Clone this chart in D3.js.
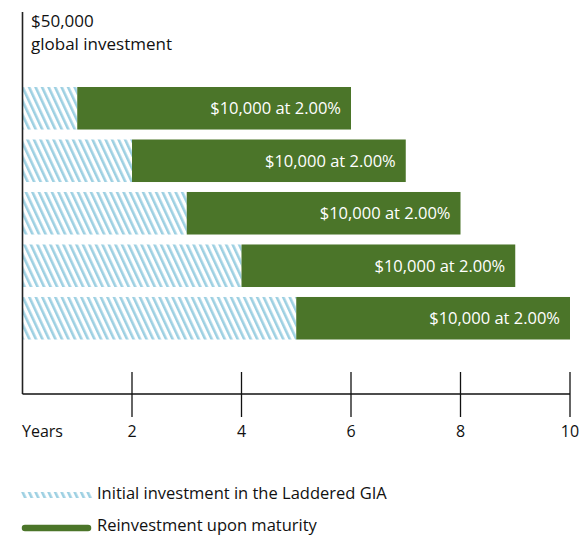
<!DOCTYPE html>
<html>
<head>
<meta charset="utf-8">
<script src="https://d3js.org/d3.v7.min.js"></script>
<style>
  body { margin: 0; background: #fff; }
  text { font-family: "Open Sans", "Noto Sans", sans-serif; }
</style>
</head>
<body>
<svg id="chart" width="581" height="536"></svg>
<script>
// data
const initialYears = [1, 2, 3, 4, 5];
const reinvestYears = [5, 5, 5, 5, 5];
const barLabels = ["$10,000 at 2.00%", "$10,000 at 2.00%", "$10,000 at 2.00%", "$10,000 at 2.00%", "$10,000 at 2.00%"];
const tickValues = [2, 4, 6, 8, 10];
const legendLabels = ["Initial investment in the Laddered GIA", "Reinvestment upon maturity"];

const green = "#4b7529";
const hatchBlue = "#9dd0e2";

const svg = d3.select("#chart");

const defs = svg.append("defs");
const pat = defs.append("pattern")
    .attr("id", "hatch")
    .attr("patternUnits", "userSpaceOnUse")
    .attr("width", 5.9)
    .attr("height", 10)
    .attr("patternTransform", "rotate(-25)");
pat.append("rect").attr("width", 5.9).attr("height", 10).attr("fill", "#fff");
pat.append("rect").attr("x", 0).attr("width", 2.6).attr("height", 10).attr("fill", hatchBlue);

const x = d3.scaleLinear().domain([0, 10]).range([22.5, 570]);
const y = d3.scaleBand().domain(d3.range(initialYears.length)).range([87, 339.5]).paddingInner(0.19);

const axisY = 394;

// bars
const rows = svg.append("g").selectAll("g")
    .data(initialYears.map((d, i) => ({ init: d, re: reinvestYears[i], label: barLabels[i], i })))
    .join("g");

rows.append("rect")
    .attr("x", x(0))
    .attr("y", d => y(d.i))
    .attr("width", d => x(d.init) - x(0))
    .attr("height", y.bandwidth())
    .attr("fill", "url(#hatch)");

rows.append("rect")
    .attr("x", d => x(d.init))
    .attr("y", d => y(d.i))
    .attr("width", d => x(d.init + d.re) - x(d.init))
    .attr("height", y.bandwidth())
    .attr("fill", green);

rows.append("text")
    .attr("x", d => x(d.init + d.re) - 10)
    .attr("y", d => y(d.i) + y.bandwidth() / 2 + 6)
    .attr("text-anchor", "end")
    .attr("fill", "#fff")
    .attr("font-size", 16.5)
    .text(d => d.label);

// vertical axis line
svg.append("line")
    .attr("x1", x(0)).attr("x2", x(0))
    .attr("y1", 12).attr("y2", axisY)
    .attr("stroke", "#222").attr("stroke-width", 1.6);

// horizontal axis
svg.append("line")
    .attr("x1", x(0)).attr("x2", x(10))
    .attr("y1", axisY).attr("y2", axisY)
    .attr("stroke", "#111").attr("stroke-width", 1.3);

svg.append("g").selectAll("line")
    .data(tickValues)
    .join("line")
    .attr("x1", d => x(d)).attr("x2", d => x(d))
    .attr("y1", 372).attr("y2", 417)
    .attr("stroke", "#111").attr("stroke-width", 1.3);

svg.append("g").selectAll("text")
    .data(tickValues)
    .join("text")
    .attr("x", d => x(d))
    .attr("y", 437)
    .attr("text-anchor", "middle")
    .attr("font-size", 16)
    .attr("fill", "#111")
    .text(d => d);

svg.append("text")
    .attr("x", 22).attr("y", 437)
    .attr("font-size", 16).attr("fill", "#111")
    .text("Years");

// top label
svg.append("text")
    .attr("x", 31).attr("y", 27)
    .attr("font-size", 17).attr("fill", "#111")
    .text("$50,000");
svg.append("text")
    .attr("x", 31).attr("y", 50)
    .attr("font-size", 17).attr("fill", "#111")
    .text("global investment");

// legend
svg.append("rect")
    .attr("x", 21).attr("y", 492)
    .attr("width", 72).attr("height", 6)
    .attr("fill", "url(#hatch)");
svg.append("line")
    .attr("x1", 25).attr("x2", 88)
    .attr("y1", 528).attr("y2", 528)
    .attr("stroke", green).attr("stroke-width", 6.5)
    .attr("stroke-linecap", "round");

svg.append("g").selectAll("text")
    .data(legendLabels)
    .join("text")
    .attr("x", 97)
    .attr("y", (d, i) => 499 + i * 32)
    .attr("font-size", 16.5)
    .attr("fill", "#111")
    .text(d => d);
</script>
</body>
</html>
